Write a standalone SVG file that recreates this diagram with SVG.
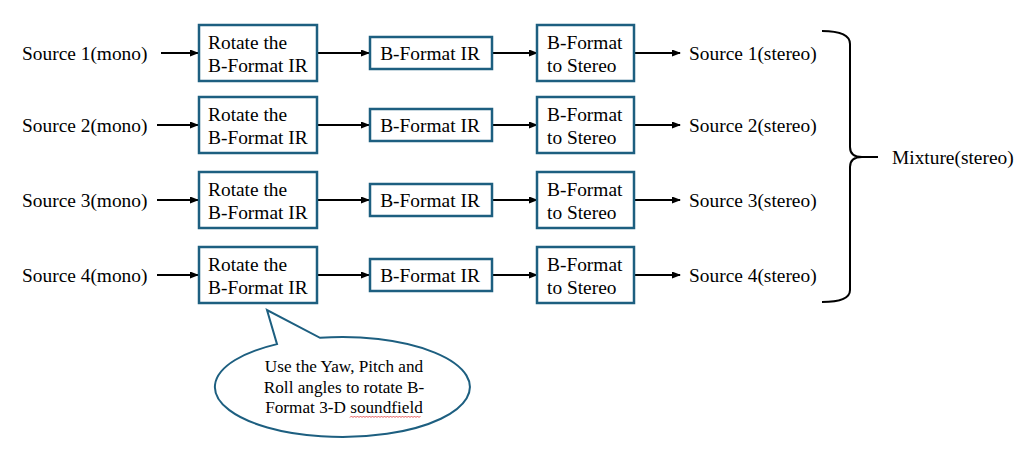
<svg xmlns="http://www.w3.org/2000/svg" width="1025" height="449" viewBox="0 0 1025 449">
<defs>
<style>
.box{fill:#fff;stroke:#1d5f80;stroke-width:2.5}
.t{font-family:"Liberation Serif","Times New Roman",serif;font-size:19.4px;fill:#000}
.s{font-family:"Liberation Serif","Times New Roman",serif;font-size:17.2px;fill:#000}
.c{text-anchor:middle}
.ln{stroke:#000;stroke-width:1.8;fill:none;marker-end:url(#ah)}
</style>
<marker id="ah" markerUnits="userSpaceOnUse" markerWidth="9" markerHeight="7" refX="8" refY="3.5" orient="auto">
<path d="M0,0 L9,3.5 L0,7 z" fill="#000"/>
</marker>
</defs>
<rect width="1025" height="449" fill="#fff"/>

<g id="connectors">
<line class="ln" x1="161" y1="53" x2="198" y2="53"/>
<line class="ln" x1="317" y1="53" x2="369" y2="53"/>
<line class="ln" x1="492" y1="53" x2="537" y2="53"/>
<line class="ln" x1="634" y1="53" x2="680" y2="53"/>

<line class="ln" x1="157" y1="125" x2="198" y2="125"/>
<line class="ln" x1="317" y1="125" x2="369" y2="125"/>
<line class="ln" x1="492" y1="125" x2="537" y2="125"/>
<line class="ln" x1="634" y1="125" x2="680" y2="125"/>

<line class="ln" x1="157" y1="200" x2="198" y2="200"/>
<line class="ln" x1="317" y1="200" x2="369" y2="200"/>
<line class="ln" x1="492" y1="200" x2="537" y2="200"/>
<line class="ln" x1="634" y1="200" x2="680" y2="200"/>

<line class="ln" x1="157" y1="275" x2="198" y2="275"/>
<line class="ln" x1="317" y1="275" x2="369" y2="275"/>
<line class="ln" x1="492" y1="275" x2="537" y2="275"/>
<line class="ln" x1="634" y1="275" x2="680" y2="275"/>
</g>

<g id="source1-mono"><text class="t" x="22" y="60">Source 1(mono)</text></g>
<g id="source2-mono"><text class="t" x="22" y="132">Source 2(mono)</text></g>
<g id="source3-mono"><text class="t" x="22" y="207">Source 3(mono)</text></g>
<g id="source4-mono"><text class="t" x="22" y="282">Source 4(mono)</text></g>

<g id="rotate1"><rect class="box" x="199" y="25" width="118" height="56"/><text class="t" x="208" y="48.5">Rotate the</text><text class="t" x="208" y="71.5">B-Format IR</text></g>
<g id="rotate2"><rect class="box" x="199" y="97" width="118" height="56"/><text class="t" x="208" y="120.5">Rotate the</text><text class="t" x="208" y="143.5">B-Format IR</text></g>
<g id="rotate3"><rect class="box" x="199" y="172" width="118" height="56"/><text class="t" x="208" y="195.5">Rotate the</text><text class="t" x="208" y="218.5">B-Format IR</text></g>
<g id="rotate4"><rect class="box" x="199" y="247" width="118" height="56"/><text class="t" x="208" y="270.5">Rotate the</text><text class="t" x="208" y="293.5">B-Format IR</text></g>

<g id="bfir1"><rect class="box" x="370" y="37" width="122" height="32"/><text class="t c" x="430" y="60">B-Format IR</text></g>
<g id="bfir2"><rect class="box" x="370" y="109" width="122" height="32"/><text class="t c" x="430" y="132">B-Format IR</text></g>
<g id="bfir3"><rect class="box" x="370" y="184" width="122" height="32"/><text class="t c" x="430" y="207">B-Format IR</text></g>
<g id="bfir4"><rect class="box" x="370" y="259" width="122" height="32"/><text class="t c" x="430" y="282">B-Format IR</text></g>

<g id="bfs1"><rect class="box" x="537" y="25" width="97" height="56"/><text class="t" x="547" y="48.5">B-Format</text><text class="t" x="547" y="71.5">to Stereo</text></g>
<g id="bfs2"><rect class="box" x="537" y="97" width="97" height="56"/><text class="t" x="547" y="120.5">B-Format</text><text class="t" x="547" y="143.5">to Stereo</text></g>
<g id="bfs3"><rect class="box" x="537" y="172" width="97" height="56"/><text class="t" x="547" y="195.5">B-Format</text><text class="t" x="547" y="218.5">to Stereo</text></g>
<g id="bfs4"><rect class="box" x="537" y="247" width="97" height="56"/><text class="t" x="547" y="270.5">B-Format</text><text class="t" x="547" y="293.5">to Stereo</text></g>

<g id="source1-stereo"><text class="t" x="689" y="60">Source 1(stereo)</text></g>
<g id="source2-stereo"><text class="t" x="689" y="132">Source 2(stereo)</text></g>
<g id="source3-stereo"><text class="t" x="689" y="207">Source 3(stereo)</text></g>
<g id="source4-stereo"><text class="t" x="689" y="282">Source 4(stereo)</text></g>

<g id="brace">
<path d="M822,31 Q850,31 850,44 L850,147 Q850,157 862,157 Q850,157 850,167 L850,290 Q850,302 822,302 M862,157 L878,157" fill="none" stroke="#000" stroke-width="2"/>
</g>
<g id="mixture"><text class="t" x="892" y="164">Mixture(stereo)</text></g>

<g id="callout">
<path d="M277,344.1 L267,310 L320,337.8 A127.5,50 0 1 1 277,344.1 Z" fill="#fff" stroke="#1d5f80" stroke-width="2"/>
<text class="s c" x="344" y="372">Use the Yaw, Pitch and</text>
<text class="s c" x="344" y="393">Roll angles to rotate B-</text>
<text class="s c" x="344" y="413">Format 3-D soundfield</text>
<path d="M350,417.5 l1.5,-1.5 l1.5,1.5 l1.5,-1.5 l1.5,1.5 l1.5,-1.5 l1.5,1.5 l1.5,-1.5 l1.5,1.5 l1.5,-1.5 l1.5,1.5 l1.5,-1.5 l1.5,1.5 l1.5,-1.5 l1.5,1.5 l1.5,-1.5 l1.5,1.5 l1.5,-1.5 l1.5,1.5 l1.5,-1.5 l1.5,1.5 l1.5,-1.5 l1.5,1.5 l1.5,-1.5 l1.5,1.5 l1.5,-1.5 l1.5,1.5 l1.5,-1.5 l1.5,1.5 l1.5,-1.5 l1.5,1.5 l1.5,-1.5 l1.5,1.5 l1.5,-1.5 l1.5,1.5 l1.5,-1.5 l1.5,1.5 l1.5,-1.5 l1.5,1.5 l1.5,-1.5 l1.5,1.5 l1.5,-1.5 l1.5,1.5 l1.5,-1.5 l1.5,1.5 l1.5,-1.5 l1.5,1.5 l1.5,-1.5" fill="none" stroke="#e03030" stroke-width="0.8"/>
</g>
</svg>
